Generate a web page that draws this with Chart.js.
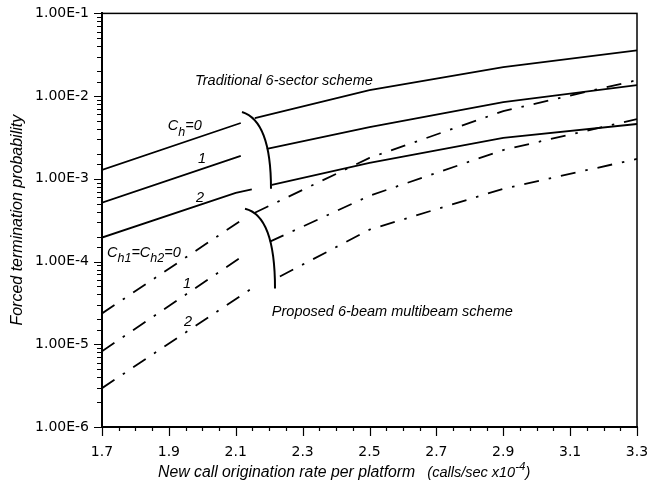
<!DOCTYPE html>
<html>
<head>
<meta charset="utf-8">
<script src="https://cdn.jsdelivr.net/npm/chart.js@4.4.1/dist/chart.umd.min.js"></script>
<style>
html, body { margin: 0; padding: 0; background: #fff; }
</style>
</head>
<body>
<canvas id="chart" width="671" height="492"></canvas>
<script>
// traditional 6-sector scheme (solid), null = gap cut by the brace
var ch0X = [1.7, 2.115, 2.135, 2.157, 2.5, 2.9, 3.3];
var ch0Y = [1.28e-3, 4.73e-3, null, 5.43e-3, 1.18e-2, 2.24e-2, 3.58e-2];
var ch1X = [1.7, 2.115, 2.15, 2.193, 2.5, 2.9, 3.3];
var ch1Y = [5.14e-4, 1.89e-3, null, 2.30e-3, 4.23e-3, 8.47e-3, 1.36e-2];
var ch2X = [1.7, 2.1, 2.148, 2.18, 2.208, 2.5, 2.9, 3.3];
var ch2Y = [1.95e-4, 6.78e-4, 7.46e-4, null, 8.47e-4, 1.56e-3, 3.12e-3, 4.60e-3];

// proposed 6-beam multibeam scheme (dash-dot)
var mb0X = [1.7, 2.115, 2.135, 2.157, 2.5, 2.9, 3.3];
var mb0Y = [2.36e-5, 3.12e-4, null, 3.89e-4, 1.79e-3, 6.59e-3, 1.56e-2];
var mb1X = [1.7, 2.115, 2.16, 2.202, 2.5, 2.9, 3.3];
var mb1Y = [8.24e-6, 1.12e-4, null, 1.74e-4, 6.24e-4, 2.23e-3, 5.28e-3];
var mb2X = [1.7, 2.152, 2.19, 2.232, 2.5, 2.9, 3.3];
var mb2Y = [2.95e-6, 4.86e-5, null, 6.6e-5, 2.43e-4, 7.58e-4, 1.74e-3];

var xMin = 1.7, xMax = 3.3, xStep = 0.05;
var yMin = 1e-6, yMax = 1e-1;

var textFont = '"Liberation Sans", Arial, sans-serif';
var tickFont = '"DejaVu Sans", Verdana, sans-serif';
var dashDot = [15, 10, 2.5, 10];

function points(xs, ys) {
    return xs.map(function(x, i) { return {x: x, y: ys[i]}; });
}

function isDecade(v) {
    var e = Math.log10(v);
    return Math.abs(e - Math.round(e)) < 1e-6;
}

function xLabel(v) {
    var k = Math.round(v * 100);
    return (k - 170) % 20 === 0 ? (k / 100).toFixed(1) : '';
}

function line(xs, ys, dash) {
    return {
        data: points(xs, ys),
        borderColor: '#000',
        borderWidth: 1.8,
        borderDash: dash || [],
        pointRadius: 0,
        fill: false,
        spanGaps: false
    };
}

// draws text made of pieces, some lowered as subscripts / raised as superscripts
function richText(ctx, parts, x, y) {
    parts.forEach(function(p) {
        ctx.font = 'italic ' + p[1] + 'px ' + textFont;
        ctx.fillText(p[0], x, y + (p[2] || 0));
        x += ctx.measureText(p[0]).width;
    });
}

var extras = {
    id: 'extras',
    afterDatasetsDraw: function(chart) {
        var ctx = chart.ctx, a = chart.chartArea;
        var xs = chart.scales.x, ys = chart.scales.y;
        var px = function(v) { return xs.getPixelForValue(v); };
        var py = function(v) { return ys.getPixelForValue(v); };
        ctx.save();
        ctx.strokeStyle = '#000';
        ctx.fillStyle = '#000';

        ctx.lineWidth = 1.5;
        ctx.strokeRect(a.left, a.top, a.right - a.left, a.bottom - a.top);

        // ticks outside the frame, minor ones shorter
        ctx.lineWidth = 1.2;
        ctx.beginPath();
        ys.ticks.forEach(function(t) {
            var y = Math.round(py(t.value)) + 0.5;
            var len = isDecade(t.value) ? 8 : 5;
            ctx.moveTo(a.left - len, y);
            ctx.lineTo(a.left, y);
        });
        xs.ticks.forEach(function(t) {
            var x = Math.round(px(t.value)) + 0.5;
            var len = xLabel(t.value) ? 9 : 4;
            ctx.moveTo(x, a.bottom);
            ctx.lineTo(x, a.bottom + len);
        });
        ctx.stroke();

        // braces grouping the curves
        ctx.lineWidth = 2;
        [[2.1187, 6.42e-3, 2.2054, 5.0e-3, 2.2054, 7.58e-4],
         [2.1277, 4.35e-4, 2.2174, 3.58e-4, 2.2174, 4.73e-5]].forEach(function(b) {
            ctx.beginPath();
            ctx.moveTo(px(b[0]), py(b[1]));
            ctx.quadraticCurveTo(px(b[2]), py(b[3]), px(b[4]), py(b[5]));
            ctx.stroke();
        });

        ctx.textBaseline = 'middle';
        ctx.textAlign = 'left';
        richText(ctx, [['Traditional 6-sector scheme', 14.5]], px(1.978), py(1.52e-2));
        richText(ctx, [['Proposed 6-beam multibeam scheme', 14.5]], px(2.208), py(2.43e-5));
        richText(ctx, [['C', 14.5], ['h', 12.5, 6], ['=0', 14.5]], px(1.897), py(4.35e-3));
        richText(ctx, [['C', 14.5], ['h1', 12.5, 6], ['=C', 14.5], ['h2', 12.5, 6], ['=0', 14.5]], px(1.715), py(1.28e-4));
        ctx.textAlign = 'center';
        richText(ctx, [['1', 14.5]], px(1.999), py(1.74e-3));
        richText(ctx, [['2', 14.5]], px(1.993), py(5.9e-4));
        richText(ctx, [['1', 14.5]], px(1.954), py(5.43e-5));
        richText(ctx, [['2', 14.5]], px(1.957), py(1.84e-5));

        // x axis title with superscript
        ctx.textAlign = 'left';
        richText(ctx, [['New call origination rate per platform', 15.8], ['   (calls/sec x10', 14.5], ['-4', 11.5, -6], [')', 14.5]], a.left + 56, 473);
        ctx.restore();
    }
};

new Chart(document.getElementById('chart').getContext('2d'), {
    type: 'line',
    data: {
        datasets: [
            line(ch0X, ch0Y),
            line(ch1X, ch1Y),
            line(ch2X, ch2Y),
            line(mb0X, mb0Y, dashDot),
            line(mb1X, mb1Y, dashDot),
            line(mb2X, mb2Y, dashDot)
        ]
    },
    options: {
        responsive: false,
        animation: false,
        layout: {padding: {top: 12, right: 34, left: 0, bottom: 0}},
        plugins: {legend: {display: false}, tooltip: {enabled: false}},
        scales: {
            x: {
                type: 'linear',
                min: xMin,
                max: xMax,
                afterFit: function(s) { s.height = 65; },
                grid: {drawOnChartArea: false, drawTicks: true, tickLength: 8, tickColor: 'rgba(0,0,0,0)'},
                border: {color: '#000', width: 2},
                ticks: {
                    stepSize: xStep,
                    autoSkip: false,
                    maxRotation: 0,
                    padding: 9,
                    color: '#000',
                    font: {family: tickFont, size: 14},
                    callback: function(v) { return xLabel(v); }
                }
            },
            y: {
                type: 'logarithmic',
                min: yMin,
                max: yMax,
                afterFit: function(s) { s.width = 102; },
                grid: {drawOnChartArea: false, drawTicks: true, tickLength: 8, tickColor: 'rgba(0,0,0,0)'},
                border: {color: '#000', width: 2},
                title: {
                    display: true,
                    text: 'Forced termination probability',
                    color: '#000',
                    font: {family: textFont, size: 16, style: 'italic', weight: 'normal'},
                    padding: {top: 8, bottom: 0}
                },
                ticks: {
                    autoSkip: false,
                    padding: 5,
                    color: '#000',
                    font: {family: tickFont, size: 14},
                    callback: function(v) { return isDecade(v) ? v.toExponential(2).toUpperCase() : ''; }
                }
            }
        }
    },
    plugins: [extras]
});
</script>
</body>
</html>
